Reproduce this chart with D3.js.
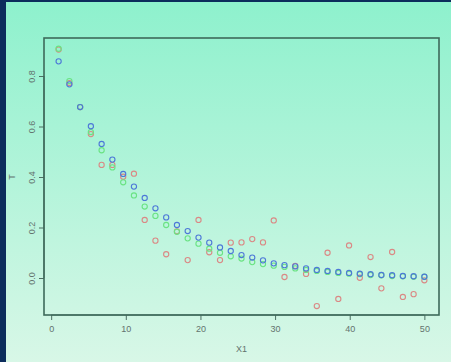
<!DOCTYPE html>
<html>
<head>
<meta charset="utf-8">
<script src="https://cdn.jsdelivr.net/npm/d3@7"></script>
<style>
  html, body { margin: 0; padding: 0; background: #0c2d5c; }
  svg { display: block; }
  .tick text { font-family: "Liberation Sans", Arial, sans-serif; font-size: 9px; fill: #63736e; }
</style>
</head>
<body>
<div id="chart"></div>
<script>
const W = 451, H = 362;

// x positions of the 35 points
const xVals = [1, 2.44, 3.88, 5.32, 6.76, 8.2, 9.65, 11.09, 12.53, 13.97, 15.41, 16.85,
  18.29, 19.74, 21.18, 22.62, 24.06, 25.5, 26.94, 28.38, 29.82, 31.26, 32.7, 34.15,
  35.59, 37.03, 38.47, 39.91, 41.35, 42.79, 44.24, 45.68, 47.12, 48.56, 50];

const redVals = [0.905, 0.772, 0.677, 0.570, 0.448, 0.448, 0.401, 0.413, 0.230, 0.148, 0.094, 0.185,
  0.071, 0.230, 0.102, 0.071, 0.140, 0.141, 0.154, 0.141, 0.228, 0.004, 0.048, 0.016,
  -0.111, 0.100, -0.083, 0.129, 0.001, 0.083, -0.041, 0.103, -0.075, -0.064, -0.009];

const greenVals = [0.908, 0.780, 0.677, 0.578, 0.506, 0.438, 0.379, 0.327, 0.283, 0.246, 0.210, 0.183,
  0.157, 0.136, 0.116, 0.100, 0.086, 0.077, 0.063, 0.055, 0.049, 0.044, 0.038, 0.032,
  0.028, 0.024, 0.020, 0.017, 0.015, 0.012, 0.011, 0.008, 0.007, 0.005, 0.005];

const blueVals = [0.858, 0.767, 0.677, 0.601, 0.531, 0.469, 0.412, 0.362, 0.317, 0.276, 0.240, 0.210,
  0.186, 0.160, 0.140, 0.121, 0.107, 0.091, 0.081, 0.070, 0.058, 0.051, 0.046, 0.038,
  0.032, 0.028, 0.024, 0.020, 0.017, 0.015, 0.012, 0.011, 0.008, 0.007, 0.005];

const xTicks = [0, 10, 20, 30, 40, 50];
const yTicks = [0.0, 0.2, 0.4, 0.6, 0.8];

const series = [
  { name: "red", color: "#da8985", values: redVals },
  { name: "green", color: "#6ae383", values: greenVals },
  { name: "blue", color: "#4d78d8", values: blueVals }
];

const box = { left: 44, top: 38, right: 439, bottom: 315 };

const svg = d3.select("#chart").append("svg")
  .attr("width", W)
  .attr("height", H);

const grad = svg.append("defs").append("linearGradient")
  .attr("id", "bg")
  .attr("x1", 0).attr("y1", 0).attr("x2", 0).attr("y2", 1);
grad.append("stop").attr("offset", "0%").attr("stop-color", "#8ef1cd");
grad.append("stop").attr("offset", "100%").attr("stop-color", "#d8f7e7");

// light panel, dark frame shows on the left and top
svg.append("rect")
  .attr("x", 6).attr("y", 2)
  .attr("width", W - 6).attr("height", H - 2)
  .attr("fill", "url(#bg)");

const x = d3.scaleLinear().domain([-0.96, 51.96]).range([box.left, box.right]);
const y = d3.scaleLinear().domain([-0.1465, 0.9505]).range([box.bottom, box.top]);

const xAxis = d3.axisBottom(x).tickValues(xTicks).tickFormat(d3.format("d"))
  .tickSize(5).tickPadding(6).tickSizeOuter(0);
const yAxis = d3.axisLeft(y).tickValues(yTicks).tickFormat(d3.format(".1f"))
  .tickSize(5).tickSizeOuter(0);

const gx = svg.append("g")
  .attr("transform", "translate(0," + box.bottom + ")")
  .call(xAxis);
gx.select(".domain").remove();
gx.selectAll(".tick line").attr("stroke", "#4d6f63");
gx.append("line")
  .attr("x1", x(0)).attr("x2", x(50))
  .attr("stroke", "#4d6f63");

const gy = svg.append("g")
  .attr("transform", "translate(" + box.left + ",0)")
  .call(yAxis);
gy.select(".domain").remove();
gy.selectAll(".tick line").attr("stroke", "#4d6f63");
gy.append("line")
  .attr("y1", y(0)).attr("y2", y(0.8))
  .attr("stroke", "#4d6f63");
// R style: y labels run along the axis
gy.selectAll(".tick text")
  .attr("x", 0).attr("y", 0)
  .attr("text-anchor", "middle")
  .attr("transform", "translate(-12,0) rotate(-90)")
  .attr("dy", "0.35em");

// plot box
svg.append("rect")
  .attr("x", box.left).attr("y", box.top)
  .attr("width", box.right - box.left).attr("height", box.bottom - box.top)
  .attr("fill", "none")
  .attr("stroke", "#3e6a5a")
  .attr("stroke-width", 1.6);

series.forEach(function (s) {
  svg.append("g").selectAll("circle")
    .data(s.values)
    .enter()
    .append("circle")
    .attr("cx", (d, i) => x(xVals[i]))
    .attr("cy", d => y(d))
    .attr("r", 2.6)
    .attr("fill", "none")
    .attr("stroke", s.color)
    .attr("stroke-width", 1.1);
});

svg.append("text")
  .attr("x", (box.left + box.right) / 2)
  .attr("y", 352)
  .attr("text-anchor", "middle")
  .style("font-family", "Liberation Sans, Arial, sans-serif")
  .style("font-size", "9px")
  .style("fill", "#63736e")
  .text("X1");

svg.append("text")
  .attr("transform", "translate(15,177) rotate(-90)")
  .attr("text-anchor", "middle")
  .style("font-family", "Liberation Sans, Arial, sans-serif")
  .style("font-size", "9px")
  .style("fill", "#63736e")
  .text("T");
</script>
</body>
</html>
